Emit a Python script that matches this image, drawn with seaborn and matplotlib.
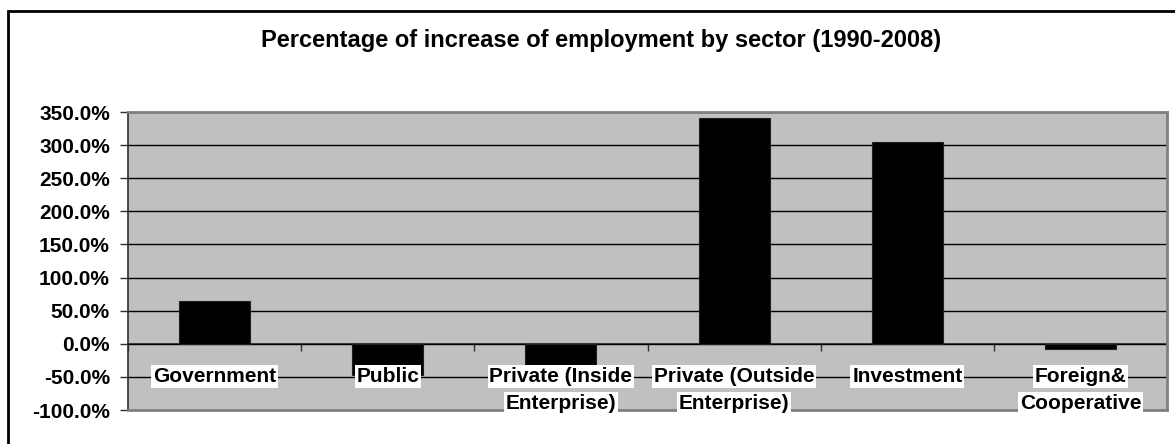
import matplotlib
matplotlib.use("Agg")
import matplotlib.pyplot as plt
from matplotlib.patches import Rectangle
from matplotlib.ticker import PercentFormatter, FixedLocator
import numpy as np
import pandas as pd
import seaborn as sns

# Employment growth by sector, 1990-2008 (percent)
sectors = [
    "Government",
    "Public",
    "Private (Inside\nEnterprise)",
    "Private (Outside\nEnterprise)",
    "Investment",
    "Foreign&\nCooperative",
]
growth = [64.5, -46.5, -35.0, 341.5, 304.0, -8.5]
y_ticks = [-100, -50, 0, 50, 100, 150, 200, 250, 300, 350]
title = "Percentage of increase of employment by sector (1990-2008)"

sns.set_style("white")
plt.rcParams["font.family"] = ["Liberation Sans", "DejaVu Sans"]
plt.rcParams["axes.unicode_minus"] = False
plt.rcParams["text.color"] = "black"
plt.rcParams["ytick.labelcolor"] = "black"
plt.rcParams["xtick.labelcolor"] = "black"

df = pd.DataFrame({"sector": sectors, "growth": growth})

fig = plt.figure(figsize=(11.75, 4.44), dpi=100)
ax = fig.add_axes([128 / 1175, 1 - 410 / 444, (1167 - 128) / 1175, (410 - 112) / 444])
ax.set_facecolor("#C0C0C0")

sns.barplot(data=df, x="sector", y="growth", color="black", width=0.41,
            edgecolor="#202020", linewidth=0.8, saturation=1, ax=ax, zorder=3)

ymin, ymax = y_ticks[0], y_ticks[-1]
ax.set_ylim(ymin, ymax)
ax.set_xlim(-0.5, len(sectors) - 0.5)

# horizontal gridlines
ax.yaxis.set_major_locator(FixedLocator(y_ticks))
ax.yaxis.set_major_formatter(PercentFormatter(xmax=100, decimals=1))
ax.grid(axis="y", color="black", linewidth=1.0, zorder=1)
ax.set_axisbelow(True)
ax.tick_params(axis="y", left=True, length=6, width=1, color="#303030",
               pad=7, labelsize=15, labelcolor="black")
for lbl in ax.get_yticklabels():
    lbl.set_fontweight("bold")

ax.set_xlabel("")
ax.set_ylabel("")
ax.set_xticks([])

# plot-area border
for side in ["top", "right", "bottom"]:
    ax.spines[side].set_color("#808080")
    ax.spines[side].set_linewidth(2)
ax.spines["left"].set_color("#303030")
ax.spines["left"].set_linewidth(1.2)

# category axis along the zero line, ticks between categories
zero_frac = (0 - ymin) / (ymax - ymin)
sec = ax.secondary_xaxis(zero_frac)
sec.set_xticks(np.arange(len(sectors) + 1) - 0.5, [""] * (len(sectors) + 1))
sec.tick_params(axis="x", direction="out", length=5, width=1, color="#303030")
sec.spines["bottom"].set_color("#303030")
sec.spines["bottom"].set_linewidth(1.2)

# category labels, one boxed text per line
box = dict(boxstyle="square,pad=0.08", facecolor="white", edgecolor="none")
for i, name in enumerate(sectors):
    for j, part in enumerate(name.split("\n")):
        ax.annotate(part, (i, 0), xytext=(0, -23.5 - 19.5 * j),
                    textcoords="offset points", ha="center", va="center",
                    fontsize=15, fontweight="bold", color="black", bbox=box,
                    zorder=5, annotation_clip=False)

fig.text(601 / 1175, 1 - 40 / 444, title, ha="center", va="center",
         fontsize=17, fontweight="bold", color="black")

# chart frame
fig.add_artist(Rectangle((8 / 1175, -0.2), 1.2, 0.2 + (1 - 11 / 444),
                         transform=fig.transFigure, fill=False,
                         edgecolor="black", linewidth=2))

fig.savefig("out.png", dpi=100)
